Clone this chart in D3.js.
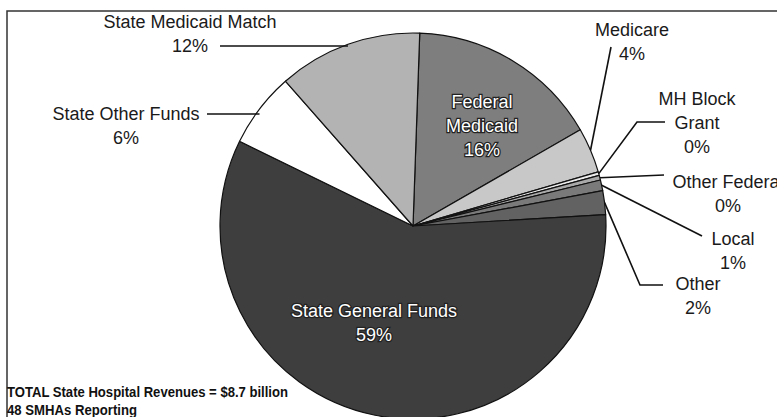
<!DOCTYPE html>
<html>
<head>
<meta charset="utf-8">
<script src="https://cdn.jsdelivr.net/npm/d3@7"></script>
<style>
  html, body { margin: 0; padding: 0; background: #fff; }
  svg { display: block; }
  text { font-family: "Liberation Sans", Arial, sans-serif; }
</style>
</head>
<body>
<svg id="chart" width="777" height="417"></svg>
<script>
// ---- data ----
const categories = ["Federal Medicaid", "Medicare", "MH Block Grant", "Other Federal", "Local", "Other", "State General Funds", "State Other Funds", "State Medicaid Match"];
const values = [16.2, 3.8, 0.3, 0.4, 0.9, 2.0, 58.4, 6.3, 12.1];
const pctLabels = ["16%", "4%", "0%", "0%", "1%", "2%", "59%", "6%", "12%"];
const labelLines = [["Federal", "Medicaid"], ["Medicare"], ["MH Block", "Grant"], ["Other Federal"], ["Local"], ["Other"], ["State General Funds"], ["State Other Funds"], ["State Medicaid Match"]];
const noteLines = ["TOTAL State Hospital Revenues = $8.7 billion", "48 SMHAs Reporting"];

// ---- styling / layout ----
const colors = ["#7e7e7e", "#c8c8c8", "#ececec", "#a9a9a9", "#7a7a7a", "#626262", "#3e3e3e", "#ffffff", "#b3b3b3"];
const svg = d3.select("#chart");
const cx = 413, cy = 226, R = 193;

// frame
svg.append("path").attr("d", "M7,420 L7,11 L780,11")
  .attr("fill", "none").attr("stroke", "#333").attr("stroke-width", 1.5);

const data = categories.map((c, i) => ({ cat: c, value: values[i], i }));
const start = 2 * Math.PI / 180;
const pie = d3.pie().value(d => d.value).sort(null).startAngle(start).endAngle(start + 2 * Math.PI);
const arcs = pie(data);
const arc = d3.arc().innerRadius(0).outerRadius(R);
const edge = d3.arc().innerRadius(R).outerRadius(R);

const g = svg.append("g").attr("transform", `translate(${cx},${cy})`);
g.selectAll("path.slice").data(arcs).enter().append("path")
  .attr("class", "slice")
  .attr("d", arc)
  .attr("fill", d => colors[d.data.i])
  .attr("stroke", "#111").attr("stroke-width", 1.2).attr("stroke-linejoin", "round");

// outside labels: anchor config (layout only)
const outside = {
  "Medicare":            { x: 632, y: 36, elbow: [[611, 47]] },
  "MH Block Grant":      { x: 697, y: 105, elbow: [[637, 122], [665, 122]] },
  "Other Federal":       { x: 728, y: 188, elbow: [[664, 175]] },
  "Local":               { x: 733, y: 245, elbow: [[702, 236]] },
  "Other":               { x: 698, y: 290, elbow: [[640, 285], [663, 285]] },
  "State Other Funds":   { x: 126, y: 120, elbow: [[207, 114]], horiz: true },
  "State Medicaid Match":{ x: 190, y: 28, elbow: [[220, 46]], horiz: true }
};
const inside = {
  "Federal Medicaid":    { x: 482, y: 108 },
  "State General Funds": { x: 374, y: 317 }
};
const lh = 24;

arcs.forEach(a => {
  const cat = a.data.cat, i = a.data.i;
  const lines = labelLines[i].concat([pctLabels[i]]);
  if (outside[cat]) {
    const o = outside[cat];
    const p = edge.centroid(a);
    let px = cx + p[0], py = cy + p[1];
    const pts = [];
    if (o.horiz) { pts.push([px, o.elbow[0][1]]); } else { pts.push([px, py]); }
    o.elbow.forEach(e => pts.push(e));
    svg.append("path").attr("d", d3.line()(pts))
      .attr("fill", "none").attr("stroke", "#111").attr("stroke-width", 1.6);
    lines.forEach((t, k) => {
      svg.append("text")
        .attr("x", o.x).attr("y", o.y + k * lh)
        .attr("text-anchor", "middle").attr("font-size", 18).attr("fill", "#1a1a1a")
        .text(t);
    });
  } else if (inside[cat]) {
    const o = inside[cat];
    lines.forEach((t, k) => {
      svg.append("text")
        .attr("x", o.x).attr("y", o.y + k * lh)
        .attr("text-anchor", "middle").attr("font-size", 18)
        .attr("fill", "#fff").attr("stroke", "#222").attr("stroke-width", 2.5)
        .attr("paint-order", "stroke")
        .text(t);
    });
  }
});

// note
noteLines.forEach((t, k) => {
  const tx = svg.append("text").attr("x", 7).attr("y", 397 + k * 18)
    .attr("font-size", 14).attr("font-weight", "bold").attr("fill", "#111").text(t);
  if (k === 0) tx.attr("textLength", 281).attr("lengthAdjust", "spacingAndGlyphs");
  else tx.attr("textLength", 130).attr("lengthAdjust", "spacingAndGlyphs");
});
</script>
</body>
</html>
